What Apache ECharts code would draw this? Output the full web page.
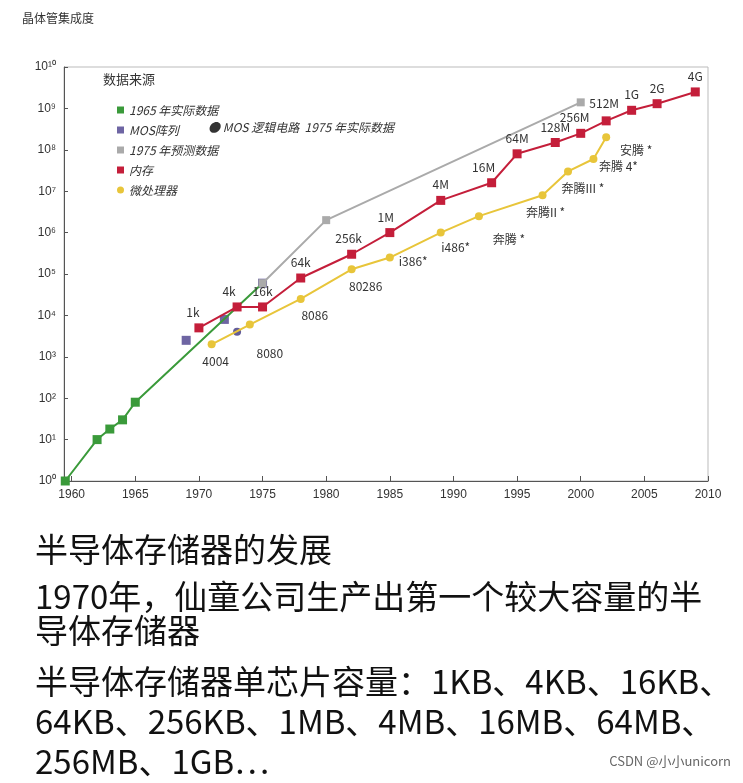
<!DOCTYPE html>
<html><head><meta charset="utf-8">
<script src="https://cdn.jsdelivr.net/npm/echarts@6/dist/echarts.min.js"></script>
<style>html,body{margin:0;background:#fff}#c{width:743px;height:783px}</style></head>
<body><div id="c"></div>
<script>
const greenYears=[1959.5,1962,1963,1964,1965,1975];
const greenVals=[1,10,18,30,80,60000];
const mosArrYears=[1969,1972,1975];
const mosArrVals=[2500,8000,60000];
const mosLogicYears=[1973];
const mosLogicVals=[4000];
const grayYears=[1975,1980,2000];
const grayVals=[60000,2000000,1400000000];
const memYears=[1970,1973,1975,1978,1982,1985,1989,1993,1995,1998,2000,2002,2004,2006,2009];
const memVals=[5000,16000,16000,80000,300000,1000000,6000000,16000000,80000000,150000000,250000000,500000000,900000000,1300000000,2500000000];
const memLabels=['1k','4k','16k','64k','256k','1M','4M','16M','64M','128M','256M','512M','1G','2G','4G'];
const cpuYears=[1971,1974,1978,1982,1985,1989,1992,1997,1999,2001,2002];
const cpuVals=[2000,6000,25000,130000,250000,1000000,2500000,8000000,30000000,60000000,200000000];
const cpuLabels=['4004','8080','8086','80286','i386*','i486*','奔腾 *','奔腾II *','奔腾III *','奔腾 4*','安腾 *'];
const xTicks=[1960,1965,1970,1975,1980,1985,1990,1995,2000,2005,2010];
const textLines=['半导体存储器的发展','1970年，仙童公司生产出第一个较大容量的半','导体存储器','半导体存储器单芯片容量：1KB、4KB、16KB、','64KB、256KB、1MB、4MB、16MB、64MB、','256MB、1GB…'];

const cpuPos=['bottom','bottom','bottom','bottom','right','bottom','bottom','bottom','bottom','bottom','bottom'];
const cpuOff=[[4,2],[20,14],[14,2],[14,2],[0,4],[15,0],[30,8],[3,2],[15,2],[25,-8],[30,-2]];
const memOff=[[-6,0],[-8,0],[0,0],[0,0],[-3,0],[-4,0],[0,0],[-8,0],[0,0],[0,0],[-6,0],[-2,-2],[0,0],[0,0],[0,0]];
const sup={0:'⁰',1:'¹',2:'²',3:'³',4:'⁴',5:'⁵',6:'⁶',7:'⁷',8:'⁸',9:'⁹'};
const pairs=(xs,ys)=>xs.map((x,i)=>[x,ys[i]]);
const lbl={fontFamily:'Noto Sans CJK SC',fontSize:12,color:'#333'};
const chart=echarts.init(document.getElementById('c'));
chart.setOption({
 animation:false,
 textStyle:{fontFamily:'Noto Sans CJK SC'},
 grid:{left:64,right:35,top:67,bottom:302,show:true,borderColor:'#bbb',borderWidth:1},
 xAxis:{type:'value',min:1959.4,max:2010,
  axisLine:{onZero:false,lineStyle:{color:'#555'}},splitLine:{show:false},
  axisTick:{customValues:xTicks,length:-5,lineStyle:{color:'#555'}},
  axisLabel:{customValues:xTicks,formatter:v=>String(v),fontSize:12,color:'#333',fontFamily:'Liberation Sans'}},
 yAxis:{type:'log',logBase:10,min:1,max:1e10,interval:1,
  axisLine:{show:true,lineStyle:{color:'#555'}},splitLine:{show:false},
  axisTick:{show:true,inside:true,length:4},
  axisLabel:{fontSize:12,color:'#333',fontFamily:'Liberation Sans',
   formatter:v=>'10'+String(Math.round(Math.log10(v))).split('').map(d=>sup[d]).join('')}},
 legend:{left:112,top:99,orient:'vertical',itemWidth:7,itemHeight:7,itemGap:8,
  textStyle:{fontSize:12,color:'#333',fontFamily:'Noto Sans CJK SC',fontStyle:'italic'},
  data:[{name:'1965 年实际数据',icon:'rect'},{name:'MOS阵列',icon:'rect'},{name:'1975 年预测数据',icon:'rect'},{name:'内存',icon:'rect'},{name:'微处理器',icon:'circle'}]},
 graphic:[
  {type:'text',left:22,top:12,style:{text:'晶体管集成度',fontSize:12,fontFamily:'Noto Sans CJK SC',fill:'#333'}},
  {type:'text',left:103,top:73,style:{text:'数据来源',fontSize:13,fontFamily:'Noto Sans CJK SC',fill:'#333'}},
  {type:'text',left:208,top:121,style:{text:'● MOS 逻辑电路  1975 年实际数据',fontSize:12,fontFamily:'Noto Sans CJK SC',fontStyle:'italic',fill:'#333'}},
  ...textLines.map((t,i)=>({type:'text',left:35,top:[533,580,614,665,705,745][i],style:{text:t,fontSize:33,fontFamily:'Noto Sans CJK SC',fill:'#111'}})),
  {type:'text',right:12,top:755,style:{text:'CSDN @小小unicorn',fontSize:13,fontFamily:'Noto Sans CJK SC',fill:'#666',backgroundColor:'#fff'}}
 ],
 series:[
  {name:'1975 年预测数据',type:'line',data:pairs(grayYears,grayVals),color:'#aaaaaa',lineStyle:{width:2},symbol:'rect',symbolSize:8,
   itemStyle:{color:'#aaa'}},
  {name:'1965 年实际数据',type:'line',data:pairs(greenYears,greenVals).map((p,i)=>({value:p,symbolSize:i==5?0:9})),color:'#3a9a3a',lineStyle:{width:2},symbol:'rect'},
  {name:'内存',type:'line',color:'#c41e3a',lineStyle:{width:2},symbol:'rect',symbolSize:9,
   data:pairs(memYears,memVals).map((p,i)=>({value:p,label:{show:true,position:'top',formatter:memLabels[i],offset:memOff[i],...lbl}}))},
  {name:'微处理器',type:'line',color:'#f2e64a',lineStyle:{width:2},symbol:'circle',symbolSize:8,itemStyle:{color:'#e8c53a'},
   data:pairs(cpuYears,cpuVals).map((p,i)=>({value:p,label:{show:true,position:cpuPos[i],formatter:cpuLabels[i],offset:cpuOff[i],...lbl}}))},
  {name:'MOS阵列',type:'scatter',color:'#4a3f8c',symbol:'rect',symbolSize:9,data:pairs(mosArrYears,mosArrVals)},
  {name:'MOS逻辑电路',type:'scatter',color:'#3c3480',symbol:'circle',symbolSize:8,data:pairs(mosLogicYears,mosLogicVals)}
 ]
});
</script></body></html>
